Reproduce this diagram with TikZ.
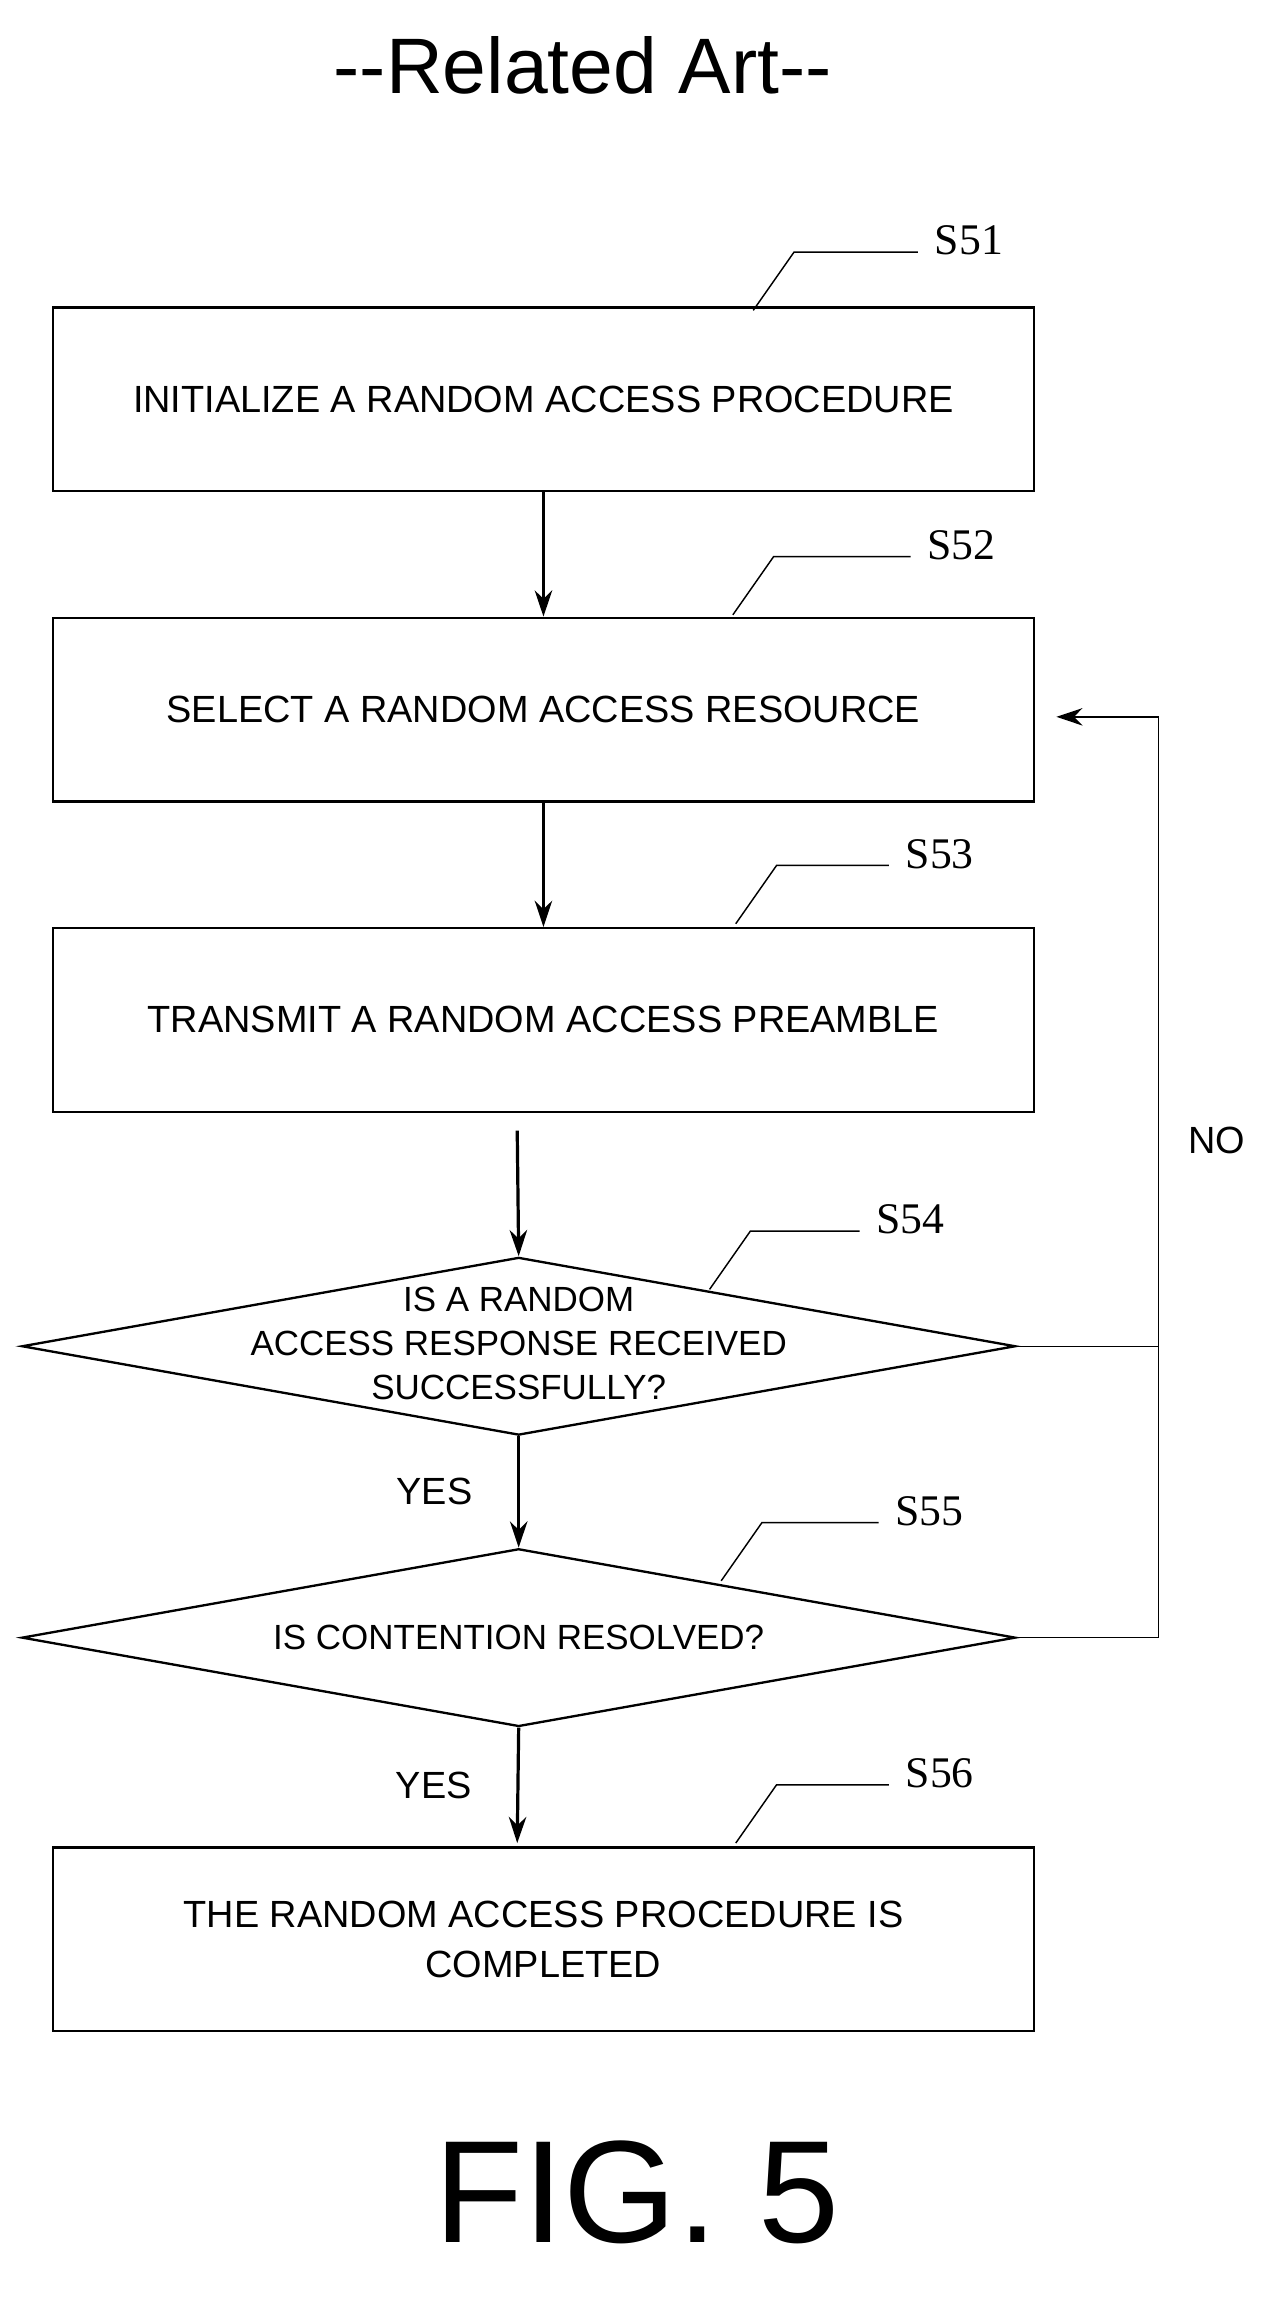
\documentclass[tikz,border=0pt]{standalone}
\usepackage{fontspec}
\setmainfont{Liberation Sans}
\newfontfamily\stepfont{Liberation Serif}
\usetikzlibrary{arrows.meta,shapes.geometric}

\begin{document}
\begin{tikzpicture}[x=0.5pt,y=-0.5pt,
    >={Stealth[length=9pt,width=6pt]},
    box/.style={draw,line width=0.8pt,minimum width=336.5pt,minimum height=63pt,
                align=center,font=\fontsize{13}{17}\selectfont},
    dec/.style={draw,line width=0.8pt,diamond,minimum width=341pt,minimum height=61pt,
                inner sep=0pt,aspect=5.6},
    dectext/.style={align=center,font=\fontsize{12}{15}\selectfont},
    steplabel/.style={font=\stepfont\fontsize{15}{15}\selectfont},
    answer/.style={font=\fontsize{13}{13}\selectfont},
    flow/.style={->,line width=1.1pt},
    back/.style={->,line width=0.5pt}]
  \useasboundingbox (0,0) rectangle (880,1580);

  \node[font=\fontsize{27}{27}\selectfont] (title) at (400,45) {{-}{-}Related Art{-}{-}};

  \node[box] (s51) at (373,274) {INITIALIZE A RANDOM ACCESS PROCEDURE};
  \node[box] (s52) at (373,487) {SELECT A RANDOM ACCESS RESOURCE};
  \node[box] (s53) at (373,700) {TRANSMIT A RANDOM ACCESS PREAMBLE};
  \node[dec] (s54) at (356,924) {};
  \node[dectext] (t54) at (356,922) {IS A RANDOM\\ACCESS RESPONSE RECEIVED\\SUCCESSFULLY?};
  \node[dec] (s55) at (356,1124) {};
  \node[dectext] (t55) at (356,1124) {IS CONTENTION RESOLVED?};
  \node[box] (s56) at (373,1331) {THE RANDOM ACCESS PROCEDURE IS\\COMPLETED};

  \node[font=\fontsize{50}{50}\selectfont] (fig) at (437,1505) {FIG. 5};

  % step labels with leader lines
  \foreach \n/\x/\y/\lx in {51/517/213/665, 52/503/422/660, 53/505/634/645,
                            54/487/885/625, 55/495/1085/638, 56/505/1265/645}{
    \node[steplabel] (l\n) at (\lx,\y-48) {S\n};
    \draw[line width=0.5pt] (\x,\y) -- (\x+28,\y-40) -- (\lx-35,\y-40);
  }

  \draw[flow] (s51) -- (s52);
  \draw[flow] (s52) -- (s53);
  \draw[flow] (355,776) -- (s54.north);
  \draw[flow] (s54.south) -- node[answer,left=12pt] {YES} (s55.north);
  \draw[flow] (s55.south) -- node[answer,left=12pt] {YES} (355,1265);

  \coordinate (c54) at (795,924);
  \coordinate (c55) at (795,1124);
  \coordinate (c52) at (795,492);
  \draw[line width=0.5pt] (s54.east) -- (c54);
  \draw[back] (s55.east) -- (c55) -- (c52) -- (725,492);
  \node[answer] (no) at (835,783) {NO};
\end{tikzpicture}
\end{document}
